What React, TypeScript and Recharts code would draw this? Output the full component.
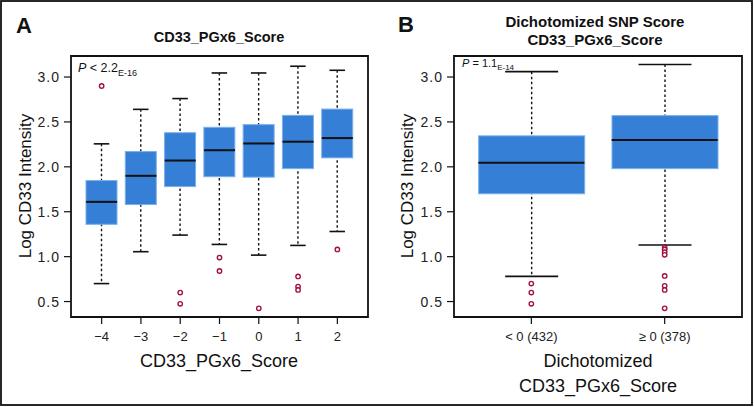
import React from "react";
import { ComposedChart, Bar, Scatter, XAxis, YAxis, ReferenceArea } from "recharts";

const FONT = '"Liberation Sans", Arial, Helvetica, sans-serif';
const BOX_FILL = "#357fd6";
const BOX_EDGE = "#78b0ee";
const OUTLIER = "#a3123f";
const INK = "#111";

// y axis shared by both panels
const yTicks = [0.5, 1.0, 1.5, 2.0, 2.5, 3.0];
const yDomain = [0.328, 3.234];

// Panel A - CD33_PGx6_Score (-4 .. 2)
const scoreLabels = ["\u22124", "\u22123", "\u22122", "\u22121", "0", "1", "2"];
const lowA = [0.7, 1.055, 1.24, 1.136, 1.017, 1.125, 1.28];
const q1A = [1.36, 1.58, 1.78, 1.89, 1.885, 1.98, 2.1];
const medA = [1.61, 1.9, 2.07, 2.185, 2.26, 2.28, 2.32];
const q3A = [1.847, 2.17, 2.38, 2.44, 2.47, 2.573, 2.643];
const highA = [2.256, 2.64, 2.76, 3.045, 3.045, 3.12, 3.075];
const outliersA = [[2.9], [], [0.6, 0.475], [0.99, 0.84], [0.425], [0.78, 0.667, 0.63], [1.08]];

// Panel B - dichotomized score
const groupLabels = ["< 0 (432)", "\u2265 0 (378)"];
const lowB = [0.78, 1.13];
const q1B = [1.7, 1.98];
const medB = [2.045, 2.3];
const q3B = [2.345, 2.57];
const highB = [3.06, 3.14];
const outliersB = [
  [0.7, 0.6, 0.475],
  [1.1, 1.08, 1.05, 1.02, 0.785, 0.675, 0.63, 0.425],
];

const buildRows = (low: number[], q1: number[], med: number[], q3: number[], high: number[]) =>
  low.map((_, i) => ({ x: i + 1, low: low[i], q1: q1[i], med: med[i], q3: q3[i], high: high[i] }));

const buildOutliers = (groups: number[][]) =>
  groups.flatMap((vals, i) => vals.map((v) => ({ x: i + 1, y: v })));

const Whisker = (props: any) => {
  const { x, y, width, height } = props;
  const cx = x + width / 2;
  const top = Math.min(y, y + height);
  const bot = Math.max(y, y + height);
  const cap = width / 4;
  return (
    <g>
      <line x1={cx} x2={cx} y1={top} y2={bot} stroke={INK} strokeWidth={1.4} strokeDasharray="2.5 2.5" />
      <line x1={cx - cap} x2={cx + cap} y1={top} y2={top} stroke={INK} strokeWidth={1.6} />
      <line x1={cx - cap} x2={cx + cap} y1={bot} y2={bot} stroke={INK} strokeWidth={1.6} />
    </g>
  );
};

const BoxBody = (props: any) => {
  const { x, y, width, height } = props;
  return (
    <rect
      x={x}
      y={Math.min(y, y + height)}
      width={width}
      height={Math.abs(height)}
      fill={BOX_FILL}
      stroke={BOX_EDGE}
      strokeWidth={1}
    />
  );
};

const medianShape = (half: number) => (props: any) =>
  <line x1={props.cx - half} x2={props.cx + half} y1={props.cy} y2={props.cy} stroke={INK} strokeWidth={2} />;

const OutlierDot = (props: any) =>
  <circle cx={props.cx} cy={props.cy} r={2.2} fill="#fff" stroke={OUTLIER} strokeWidth={1.4} />;

interface PanelProps {
  labels: string[];
  rows: any[];
  outliers: { x: number; y: number }[];
  width: number;
  marginLeft: number;
  xDomain: number[];
  boxW: number;
}

function BoxPanel({ labels, rows, outliers, width, marginLeft, xDomain, boxW }: PanelProps) {
  const ticks = labels.map((_, i) => i + 1);
  const medians = rows.map((r) => ({ x: r.x, y: r.med }));
  const tickStyle = { fill: "#222", fontSize: 13, fontFamily: FONT };
  return (
    <ComposedChart
      width={width}
      height={407}
      data={rows}
      margin={{ top: 56, right: 12, left: marginLeft, bottom: 60 }}
    >
      <XAxis
        xAxisId="main"
        type="number"
        dataKey="x"
        domain={xDomain}
        ticks={ticks}
        interval={0}
        allowDataOverflow
        tickFormatter={(v) => labels[v - 1]}
        axisLine={false}
        tickLine={{ stroke: INK, strokeWidth: 1.2 }}
        tickSize={7}
        tickMargin={8}
        height={30}
        tick={tickStyle}
      />
      {/* second x axis only so the box bars overlap the whisker bars */}
      <XAxis
        xAxisId="box"
        type="number"
        dataKey="x"
        domain={xDomain}
        ticks={ticks}
        allowDataOverflow
        orientation="top"
        height={0}
        hide
      />
      <YAxis
        type="number"
        domain={yDomain}
        ticks={yTicks}
        allowDataOverflow
        tickFormatter={(v) => v.toFixed(1)}
        axisLine={false}
        tickLine={{ stroke: INK, strokeWidth: 1.2 }}
        tickSize={7}
        tickMargin={4}
        width={50}
        tick={{ ...tickStyle, fontSize: 14, letterSpacing: 1 }}
      />
      <Bar xAxisId="main" dataKey={(d: any) => [d.low, d.high]} barSize={boxW} shape={Whisker} isAnimationActive={false} />
      <Bar xAxisId="box" dataKey={(d: any) => [d.q1, d.q3]} barSize={boxW} shape={BoxBody} isAnimationActive={false} />
      <Scatter xAxisId="main" data={medians} dataKey="y" shape={medianShape(boxW / 2)} isAnimationActive={false} />
      <Scatter xAxisId="main" data={outliers} dataKey="y" shape={OutlierDot} isAnimationActive={false} />
      <ReferenceArea
        xAxisId="main"
        x1={xDomain[0]}
        x2={xDomain[1]}
        y1={yDomain[0]}
        y2={yDomain[1]}
        fill="none"
        stroke={INK}
        strokeWidth={1.8}
        ifOverflow="visible"
      />
    </ComposedChart>
  );
}

export default function App() {
  const rowsA = buildRows(lowA, q1A, medA, q3A, highA);
  const rowsB = buildRows(lowB, q1B, medB, q3B, highB);
  return (
    <div style={{ position: "absolute", left: 0, top: 0, width: 754, height: 407, background: "#fff" }}>
      <div style={{ position: "absolute", left: 0, top: 0 }}>
        <BoxPanel
          labels={scoreLabels}
          rows={rowsA}
          outliers={buildOutliers(outliersA)}
          width={380}
          marginLeft={21}
          xDomain={[0.22, 7.78]}
          boxW={31}
        />
      </div>
      <div style={{ position: "absolute", left: 380, top: 0 }}>
        <BoxPanel
          labels={groupLabels}
          rows={rowsB}
          outliers={buildOutliers(outliersB)}
          width={374}
          marginLeft={24}
          xDomain={[0.42, 2.58]}
          boxW={106}
        />
      </div>
      <svg
        width={754}
        height={407}
        style={{ position: "absolute", left: 0, top: 0, pointerEvents: "none" }}
        fontFamily={FONT}
        fill="#111"
      >
        <rect x={1} y={1} width={751} height={404} fill="none" stroke="#111" strokeWidth={1.8} />
        <text x={16} y={33} fontSize={22} fontWeight="bold">A</text>
        <text x={398} y={32} fontSize={22} fontWeight="bold">B</text>
        <text x={219} y={42.3} fontSize={14.5} fontWeight="bold" textAnchor="middle">CD33_PGx6_Score</text>
        <text x={595} y={26.7} fontSize={15} fontWeight="bold" textAnchor="middle">Dichotomized SNP Score</text>
        <text x={595} y={45} fontSize={15} fontWeight="bold" textAnchor="middle">CD33_PGx6_Score</text>
        <text x={78} y={72.3} fontSize={12.5}>
          <tspan fontStyle="italic">P</tspan> &lt; 2.2<tspan fontSize={9} dy={3.5}>E-16</tspan>
        </text>
        <text x={462} y={67} fontSize={11}>
          <tspan fontStyle="italic">P</tspan> = 1.1<tspan fontSize={8} dy={3}>E-14</tspan>
        </text>
        <text x={219} y={367} fontSize={18} textAnchor="middle">CD33_PGx6_Score</text>
        <text x={598} y={367} fontSize={18} textAnchor="middle">Dichotomized</text>
        <text x={598} y={391.5} fontSize={18} textAnchor="middle">CD33_PGx6_Score</text>
        <text x={0} y={0} fontSize={17} textAnchor="middle" transform="translate(31 186) rotate(-90)">
          Log CD33 Intensity
        </text>
        <text x={0} y={0} fontSize={17} textAnchor="middle" transform="translate(413 186) rotate(-90)">
          Log CD33 Intensity
        </text>
      </svg>
    </div>
  );
}
